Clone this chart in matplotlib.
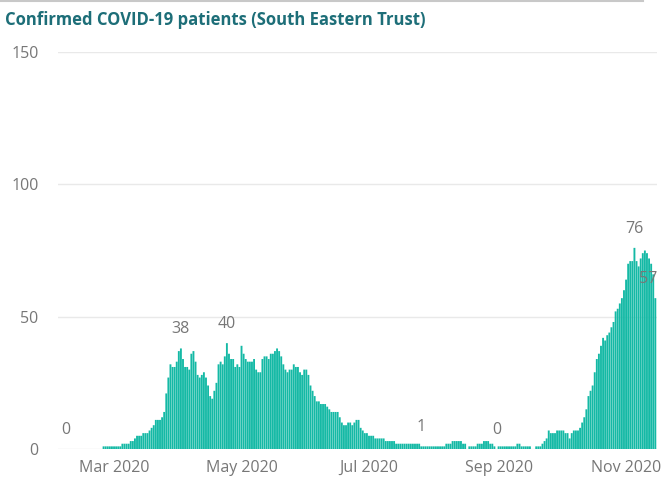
import matplotlib
matplotlib.use("Agg")
import matplotlib.pyplot as plt
from matplotlib.lines import Line2D
import pandas as pd

# daily confirmed COVID-19 inpatients
feb_vals = [0] * 18 + [1, 1, 1, 1, 1]                      # 7 Feb - 29 Feb
mar_vals = [1, 1, 1, 1, 2, 2, 2, 2, 3, 3, 4, 5, 5, 5, 6, 6, 6, 7, 8, 9,
            11, 11, 11, 12, 14, 21, 27, 32, 31, 31, 33]
apr_vals = [37, 38, 34, 31, 31, 30, 36, 37, 33, 28, 27, 28, 29, 27, 24,
            20, 19, 22, 25, 32, 33, 32, 35, 40, 36, 34, 34, 31, 32, 31]
may_vals = [39, 36, 34, 33, 33, 33, 34, 30, 29, 29, 34, 35, 35, 34, 36, 36,
            37, 38, 37, 35, 32, 30, 29, 30, 30, 32, 31, 31, 29, 28, 30]
jun_vals = [30, 28, 24, 22, 20, 18, 18, 17, 17, 17, 16, 15, 14, 14, 14,
            14, 12, 10, 9, 9, 10, 10, 9, 10, 11, 11, 8, 7, 6, 6]
jul_vals = [5, 5, 5, 4, 4, 4, 4, 4, 3, 3, 3, 3, 3, 2, 2, 2, 2, 2, 2, 2,
            2, 2, 2, 2, 2, 1, 1, 1, 1, 1, 1]
aug_vals = [1, 1, 1, 1, 1, 1, 2, 2, 2, 3, 3, 3, 3, 3, 2, 2, 0, 1, 1, 1,
            1, 2, 2, 2, 3, 3, 3, 2, 2, 1, 0]
sep_vals = [1, 1, 1, 1, 1, 1, 1, 1, 1, 2, 2, 1, 1, 1, 1, 1, 0, 0, 1, 1,
            1, 2, 3, 4, 7, 6, 6, 6, 7, 7]
oct_vals = [7, 7, 6, 6, 4, 6, 7, 7, 7, 8, 10, 12, 15, 20, 22, 24, 29, 34,
            36, 39, 42, 41, 43, 44, 46, 48, 52, 53, 55, 57, 60]
nov_vals = [64, 70, 71, 71, 76, 71, 69, 72, 74, 75, 74, 72, 70, 66, 57]

patients = (feb_vals + mar_vals + apr_vals + may_vals + jun_vals + jul_vals
            + aug_vals + sep_vals + oct_vals + nov_vals)
dates = pd.date_range("2020-02-07", periods=len(patients), freq="D")

# points that carry a data label
label_dates = ["2020-02-07", "2020-04-02", "2020-04-24", "2020-07-26",
               "2020-08-31", "2020-11-05", "2020-11-15"]

y_ticks = [0, 50, 100, 150]
x_ticks = ["2020-03-01", "2020-05-01", "2020-07-01", "2020-09-01", "2020-11-01"]
x_ticklabels = ["Mar 2020", "May 2020", "Jul 2020", "Sep 2020", "Nov 2020"]

bar_col = "#14b9a5"
txt_col = "#777777"

fig = plt.figure(figsize=(6.7, 4.79), dpi=100)
ax = fig.add_axes([0.0866, 0.0626, 0.894, 0.8288])

ax.bar(dates, patients, width=0.9, color=bar_col, linewidth=0, zorder=2,
       snap=False)

series = pd.Series(patients, index=dates)
for i, d in enumerate(label_dates):
    v = series[pd.Timestamp(d)]
    dx = 0
    if i == len(label_dates) - 1:
        dx = -7
    ax.annotate(str(v), (pd.Timestamp(d), v), xytext=(dx, 11),
                textcoords="offset pixels", ha="center", va="bottom",
                fontsize=11.5, color=txt_col, family="Open Sans", zorder=3)

ax.set_ylim(0, 150)
ax.set_yticks(y_ticks)
ax.set_xlim(pd.Timestamp("2020-03-01") - pd.Timedelta(days=26.8),
            pd.Timestamp("2020-03-01") + pd.Timedelta(days=259.8))
ax.set_xticks([pd.Timestamp(t) for t in x_ticks])
ax.set_xticklabels(x_ticklabels)

ax.grid(axis="y", color="#e9e9e9", linewidth=1, zorder=0)
ax.grid(axis="x", visible=False)
for s in ax.spines.values():
    s.set_visible(False)
ax.tick_params(length=0, labelsize=11.5, labelcolor=txt_col)
ax.tick_params(axis="y", pad=14)
ax.tick_params(axis="x", pad=8)
for lab in ax.get_xticklabels() + ax.get_yticklabels():
    lab.set_family("Open Sans")
ax.set_axisbelow(True)

fig.text(0.008, 0.958, "Confirmed COVID-19 patients (South Eastern Trust)",
         fontsize=12, fontweight="bold", color="#1d6e78",
         family="Open Sans", ha="left", va="center")

# thin border line at the top of the visual
fig.add_artist(Line2D([0, 0.96], [0.997, 0.997], color="#c8c8c8", lw=1.5))

fig.savefig("out.png", dpi=100)
